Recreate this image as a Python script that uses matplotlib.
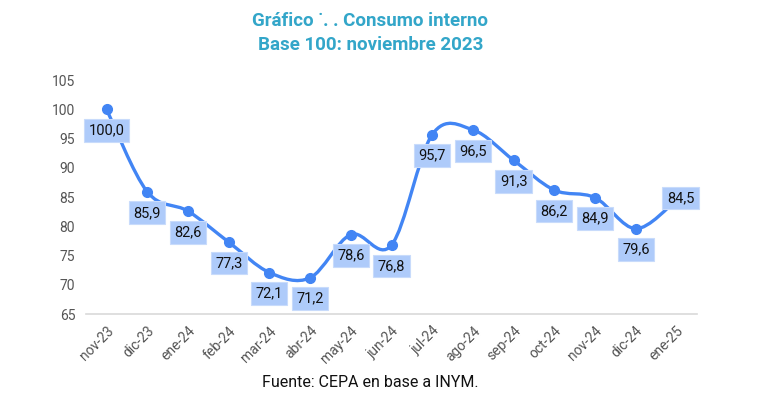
import numpy as np
import matplotlib as mpl
import matplotlib.pyplot as plt
from matplotlib.path import Path
from matplotlib.patches import PathPatch

mpl.rcParams['font.family'] = ['Roboto', 'DejaVu Sans']

meses = ['nov-23', 'dic-23', 'ene-24', 'feb-24', 'mar-24', 'abr-24', 'may-24',
         'jun-24', 'jul-24', 'ago-24', 'sep-24', 'oct-24', 'nov-24', 'dic-24', 'ene-25']
consumo = [100.0, 85.9, 82.6, 77.3, 72.1, 71.2, 78.6, 76.8, 95.7, 96.5, 91.3,
           86.2, 84.9, 79.6, 84.5]

azul = '#4285F4'
caja = '#AECBFA'
titulo_col = '#33A6C9'

fig = plt.figure(figsize=(7.7, 3.95), dpi=100)
ax = fig.add_axes([0.112, 0.205, 0.793, 0.592])

x = np.arange(len(consumo))
y = np.array(consumo)

# curva suavizada (Catmull-Rom como bezier cubicas) entre los puntos
verts = [(x[0], y[0])]
codes = [Path.MOVETO]
for i in range(len(x) - 1):
    p0 = np.array([x[max(i - 1, 0)], y[max(i - 1, 0)]])
    p1 = np.array([x[i], y[i]])
    p2 = np.array([x[i + 1], y[i + 1]])
    p3 = np.array([x[min(i + 2, len(x) - 1)], y[min(i + 2, len(x) - 1)]])
    c1 = p1 + (p2 - p0) / 6
    c2 = p2 - (p3 - p1) / 6
    verts += [tuple(c1), tuple(c2), tuple(p2)]
    codes += [Path.CURVE4] * 3
ax.add_patch(PathPatch(Path(verts, codes), facecolor='none', edgecolor=azul,
                       lw=2.4, zorder=3, capstyle='round'))
ax.plot(x, y, 'o', color=azul, markersize=7, zorder=4)

for i, v in enumerate(consumo):
    dy = -21 if i < len(consumo) - 1 else 2
    dx = 0 if i < len(consumo) - 1 else 4
    ax.annotate(f'{v:.1f}'.replace('.', ','), (i, v), xytext=(dx, dy),
                textcoords='offset pixels',
                ha='center', va='center', fontsize=10.5, color='#111111', zorder=5,
                bbox=dict(boxstyle='square,pad=0.3', fc=caja, ec='#C8DBFB', lw=0.8))

ax.set_xlim(-0.5, len(consumo) - 0.5)
ax.set_ylim(65, 105)
ax.set_yticks(range(65, 106, 5))
ax.set_xticks(x)
ax.set_xticklabels(meses, rotation=45, ha='right', rotation_mode='anchor')
ax.tick_params(axis='both', length=0, labelsize=10, labelcolor='#555555')
ax.tick_params(axis='x', pad=7)
ax.tick_params(axis='y', pad=8)
for s in ['top', 'right', 'left']:
    ax.spines[s].set_visible(False)
ax.spines['bottom'].set_color('#D9D9D9')
ax.spines['bottom'].set_linewidth(1.2)

fig.text(0.481, 0.948, 'Gráfico ˙. . Consumo interno', ha='center', va='center',
         fontsize=13.5, fontweight='bold', color=titulo_col)
fig.text(0.481, 0.885, 'Base 100: noviembre 2023', ha='center', va='center',
         fontsize=13.5, fontweight='bold', color=titulo_col)
fig.text(0.481, 0.032, 'Fuente: CEPA en base a INYM.', ha='center', va='center',
         fontsize=11.5, color='#111111')

fig.savefig('out.png', dpi=100)
